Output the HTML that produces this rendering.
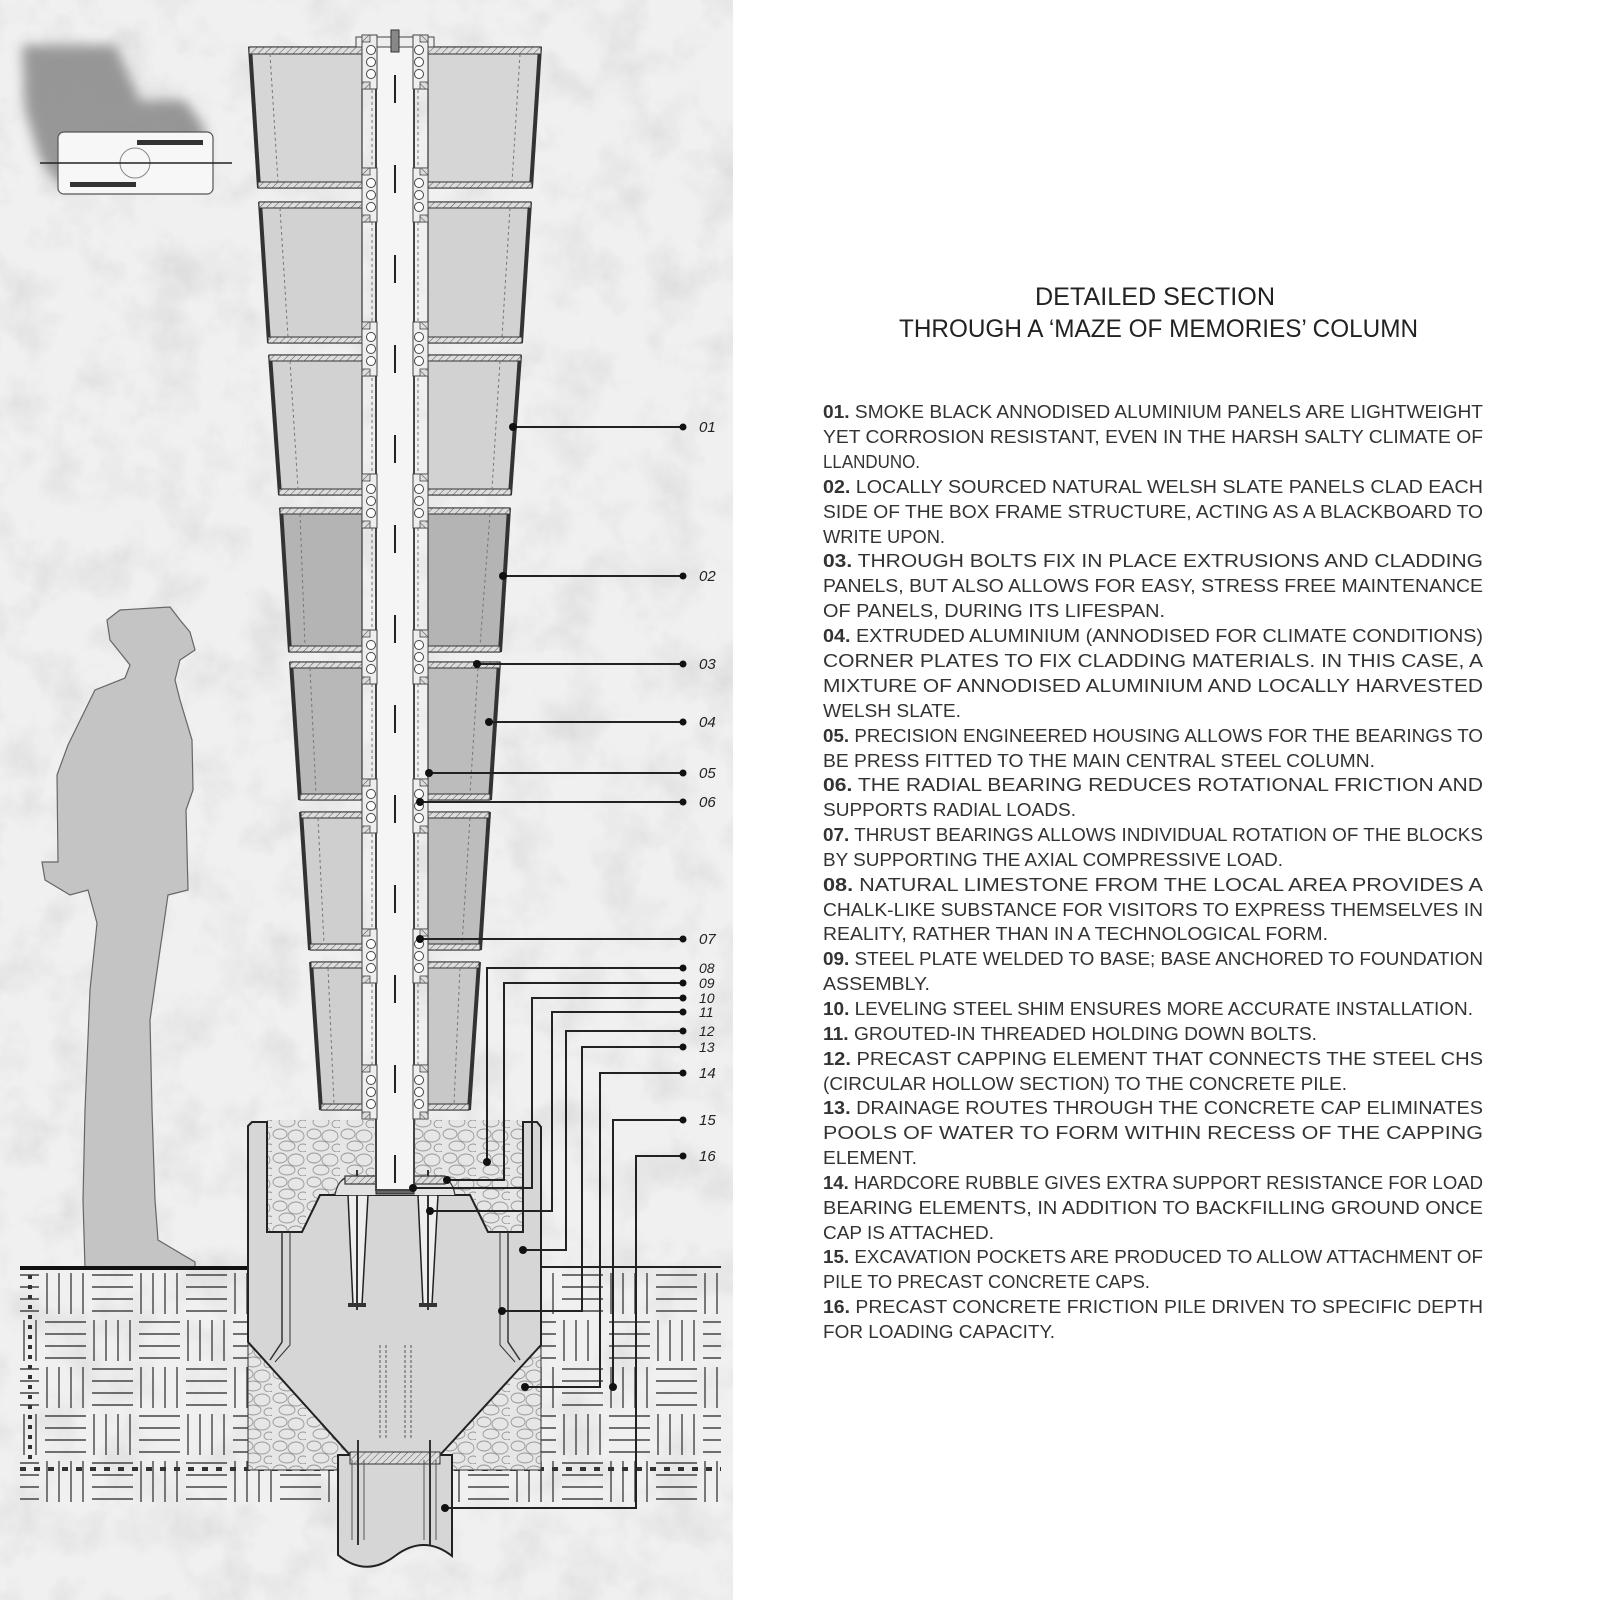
<!DOCTYPE html>
<html><head><meta charset="utf-8"><style>
html,body{margin:0;padding:0;background:#fff;}
svg{display:block;}
</style></head><body>
<svg width="1600" height="1600" viewBox="0 0 1600 1600" xmlns="http://www.w3.org/2000/svg">
<defs>
<filter id="tex" x="0" y="0" width="100%" height="100%">
<feTurbulence type="fractalNoise" baseFrequency="0.02" numOctaves="4" seed="3"/>
<feColorMatrix type="matrix" values="0 0 0 0 0.6  0 0 0 0 0.6  0 0 0 0 0.6  0 0 0 -2.2 1.25"/>
</filter>
<filter id="blur"><feGaussianBlur stdDeviation="6"/></filter>
<pattern id="hatchD" width="5" height="5" patternUnits="userSpaceOnUse" patternTransform="rotate(45)">
<rect width="5" height="5" fill="#ddd"/><line x1="0" y1="0" x2="0" y2="5" stroke="#555" stroke-width="1"/>
</pattern>
<pattern id="peb" width="34" height="24" patternUnits="userSpaceOnUse">
<rect width="34" height="24" fill="#e6e6e6"/>
<ellipse cx="8" cy="6" rx="7" ry="5" fill="none" stroke="#999" stroke-width="0.9"/>
<ellipse cx="24" cy="8" rx="8" ry="6" fill="none" stroke="#999" stroke-width="0.9"/>
<ellipse cx="15" cy="18" rx="8" ry="5" fill="none" stroke="#999" stroke-width="0.9"/>
<ellipse cx="31" cy="20" rx="5" ry="4" fill="none" stroke="#999" stroke-width="0.9"/>
</pattern>
<pattern id="weave" x="42" y="1270" width="94" height="94" patternUnits="userSpaceOnUse">
<g stroke="#444" stroke-width="1.4">
<line x1="5" y1="3" x2="5" y2="44"/><line x1="17" y1="3" x2="17" y2="44"/><line x1="29" y1="3" x2="29" y2="44"/><line x1="41" y1="3" x2="41" y2="44"/>
<line x1="50" y1="5" x2="91" y2="5"/><line x1="50" y1="17" x2="91" y2="17"/><line x1="50" y1="29" x2="91" y2="29"/><line x1="50" y1="41" x2="91" y2="41"/>
<line x1="3" y1="52" x2="44" y2="52"/><line x1="3" y1="64" x2="44" y2="64"/><line x1="3" y1="76" x2="44" y2="76"/><line x1="3" y1="88" x2="44" y2="88"/>
<line x1="52" y1="50" x2="52" y2="91"/><line x1="64" y1="50" x2="64" y2="91"/><line x1="76" y1="50" x2="76" y2="91"/><line x1="88" y1="50" x2="88" y2="91"/>
</g>
</pattern>
<g id="bbL">
<rect x="-15" y="-27" width="15" height="54" fill="#eee" stroke="#444" stroke-width="1"/>
<rect x="-15" y="-27" width="8" height="7" fill="url(#hatchD)" stroke="#444" stroke-width="0.8"/>
<rect x="-15" y="20" width="8" height="7" fill="url(#hatchD)" stroke="#444" stroke-width="0.8"/>
<circle cx="-6" cy="-12" r="4.5" fill="#fff" stroke="#444"/>
<circle cx="-6" cy="0" r="4.5" fill="#fff" stroke="#444"/>
<circle cx="-6" cy="12" r="4.5" fill="#fff" stroke="#444"/>
</g>
<g id="bbR" transform="scale(-1,1)"><use href="#bbL"/></g>
</defs>

<rect x="0" y="0" width="733" height="1600" fill="#f0f0f0"/>
<rect x="0" y="0" width="733" height="1600" filter="url(#tex)" opacity="0.45"/>

<polygon points="22,45 115,45 140,100 185,100 205,130 205,180 60,185 40,160 25,110" fill="#888" filter="url(#blur)" opacity="0.85"/>
<rect x="58" y="132" width="155" height="62" rx="6" fill="#f7f7f7" stroke="#555" stroke-width="1.2"/>
<rect x="137" y="140" width="66" height="5" fill="#333"/>
<rect x="70" y="182" width="66" height="5" fill="#333"/>
<circle cx="135" cy="163" r="15" fill="none" stroke="#888"/>
<line x1="40" y1="163" x2="232" y2="163" stroke="#222" stroke-width="1.5"/>

<path d="M107,620 L120,610 L170,607 L180,620 L190,632 L195,650 L180,660 L175,680 L180,700 L192,740 L193,790 L186,810 L188,890 L168,895 L160,950 L150,1020 L152,1110 L155,1200 L158,1240 L195,1262 L195,1268 L85,1268 L83,1200 L85,1110 L90,990 L97,923 L88,890 L70,895 L45,880 L42,862 L58,862 L57,775 L68,745 L95,690 L125,678 L130,665 L110,640 Z" fill="#c4c4c4" stroke="#666" stroke-width="1.2"/>

<rect x="20" y="1270" width="228" height="237" fill="url(#weave)"/>
<rect x="541" y="1270" width="180" height="237" fill="url(#weave)"/>
<rect x="248" y="1470" width="293" height="37" fill="url(#weave)"/>
<line x1="30" y1="1275" x2="30" y2="1465" stroke="#333" stroke-width="4" stroke-dasharray="4 6"/>
<line x1="20" y1="1268" x2="250" y2="1268" stroke="#111" stroke-width="4"/>
<line x1="541" y1="1267" x2="721" y2="1267" stroke="#222" stroke-width="2"/>
<line x1="20" y1="1469" x2="721" y2="1469" stroke="#333" stroke-width="4" stroke-dasharray="6 8"/>

<rect x="267" y="1120" width="256" height="112" fill="url(#peb)"/>
<polygon points="248,1342 350,1455 350,1470 248,1470" fill="url(#peb)" stroke="#333" stroke-width="1"/>
<polygon points="541,1345 440,1455 440,1470 541,1470" fill="url(#peb)" stroke="#333" stroke-width="1"/>

<polygon points="248,1126 252,1122 267,1122 267,1232 302,1232 320,1195 470,1195 488,1232 523,1232 523,1122 537,1122 541,1127 541,1345 440,1455 350,1455 248,1342" fill="#d6d6d6" stroke="#222" stroke-width="2"/>
<polyline points="282,1232 282,1342 270,1360" fill="none" stroke="#333" stroke-width="1.5"/>
<polyline points="290,1232 290,1345 275,1362" fill="none" stroke="#333" stroke-width="1"/>
<polyline points="508,1232 508,1342 520,1360" fill="none" stroke="#333" stroke-width="1.5"/>
<polyline points="500,1232 500,1345 515,1362" fill="none" stroke="#333" stroke-width="1"/>
<polygon points="348,1195 368,1195 362,1305 353,1305" fill="#eee" stroke="#222" stroke-width="1.5"/>
<polygon points="418,1195 438,1195 432,1305 423,1305" fill="#eee" stroke="#222" stroke-width="1.5"/>
<line x1="357" y1="1170" x2="357" y2="1310" stroke="#333" stroke-width="2"/>
<line x1="428" y1="1170" x2="428" y2="1310" stroke="#333" stroke-width="2"/>
<rect x="348" y="1303" width="18" height="4" fill="#333"/><rect x="419" y="1303" width="18" height="4" fill="#333"/>
<line x1="380" y1="1345" x2="380" y2="1440" stroke="#555" stroke-width="1" stroke-dasharray="3 2"/>
<line x1="386" y1="1345" x2="386" y2="1440" stroke="#555" stroke-width="1" stroke-dasharray="3 2"/>
<line x1="405" y1="1345" x2="405" y2="1440" stroke="#555" stroke-width="1" stroke-dasharray="3 2"/>
<line x1="411" y1="1345" x2="411" y2="1440" stroke="#555" stroke-width="1" stroke-dasharray="3 2"/>
<path d="M335,1195 Q338,1178 350,1177 L440,1177 Q452,1178 455,1195" fill="#e2e2e2" stroke="#333" stroke-width="1.2"/>
<rect x="345" y="1176" width="100" height="8" fill="url(#hatchD)" stroke="#333" stroke-width="1.2"/>
<rect x="376" y="1184" width="38" height="10" fill="#666" stroke="#222"/>

<path d="M338,1455 L338,1555 Q366,1578 395,1556 Q424,1534 452,1556 L452,1455 Z" fill="#d6d6d6" stroke="#222" stroke-width="2"/>
<rect x="350" y="1452" width="90" height="12" fill="url(#hatchD)" stroke="#333"/>
<line x1="358" y1="1440" x2="358" y2="1545" stroke="#333" stroke-width="2"/>
<line x1="430" y1="1440" x2="430" y2="1545" stroke="#333" stroke-width="2"/>
<line x1="352" y1="1460" x2="352" y2="1540" stroke="#555" stroke-width="1"/>
<line x1="364" y1="1460" x2="364" y2="1540" stroke="#555" stroke-width="1"/>
<line x1="424" y1="1460" x2="424" y2="1540" stroke="#555" stroke-width="1"/>
<line x1="436" y1="1460" x2="436" y2="1540" stroke="#555" stroke-width="1"/>

<g stroke="#333" stroke-width="1.2">
<polygon points="249,47 362,47 362,188 258.6,188" fill="#d6d6d6"/><polygon points="428,47 541,47 531.4,188 428,188" fill="#d6d6d6"/>
<polygon points="259.5,202 362,202 362,343 269.1,343" fill="#d2d2d2"/><polygon points="428,202 530.5,202 520.9,343 428,343" fill="#d2d2d2"/>
<polygon points="269.9,355 362,355 362,495 279.5,495" fill="#d2d2d2"/><polygon points="428,355 520.1,355 510.5,495 428,495" fill="#d2d2d2"/>
<polygon points="280.3,508 362,508 362,652 290.1,652" fill="#b4b4b4"/><polygon points="428,508 509.7,508 499.9,652 428,652" fill="#b4b4b4"/>
<polygon points="290.8,662 362,662 362,800 300.2,800" fill="#b8b8b8"/><polygon points="428,662 499.2,662 489.8,800 428,800" fill="#bcbcbc"/>
<polygon points="301,812 362,812 362,950 310.4,950" fill="#cfcfcf"/><polygon points="428,812 489,812 479.6,950 428,950" fill="#bdbdbd"/>
<polygon points="311.2,962 362,962 362,1110 321.3,1110" fill="#cfcfcf"/><polygon points="428,962 478.8,962 468.7,1110 428,1110" fill="#c8c8c8"/>
</g>
<g stroke="#333" stroke-width="4">
<line x1="250" y1="47" x2="259" y2="188"/><line x1="540" y1="47" x2="531" y2="188"/>
<line x1="260" y1="202" x2="269" y2="343"/><line x1="530" y1="202" x2="521" y2="343"/>
<line x1="270" y1="355" x2="280" y2="495"/><line x1="520" y1="355" x2="510" y2="495"/>
<line x1="281" y1="508" x2="290" y2="652"/><line x1="509" y1="508" x2="500" y2="652"/>
<line x1="291" y1="662" x2="300" y2="800"/><line x1="499" y1="662" x2="490" y2="800"/>
<line x1="301" y1="812" x2="310" y2="950"/><line x1="489" y1="812" x2="480" y2="950"/>
<line x1="311" y1="962" x2="321" y2="1110"/><line x1="479" y1="962" x2="469" y2="1110"/>
</g>
<g fill="url(#hatchD)" stroke="#333" stroke-width="1">
<rect x="249" y="47" width="292" height="7"/><rect x="258" y="182" width="274" height="6"/>
<rect x="259" y="202" width="272" height="6"/><rect x="268" y="337" width="254" height="6"/>
<rect x="269" y="355" width="252" height="6"/><rect x="279" y="489" width="232" height="6"/>
<rect x="280" y="508" width="230" height="6"/><rect x="289" y="646" width="211" height="6"/>
<rect x="290" y="662" width="210" height="6"/><rect x="300" y="794" width="190" height="6"/>
<rect x="301" y="812" width="188" height="6"/><rect x="310" y="944" width="170" height="6"/>
<rect x="311" y="962" width="168" height="6"/><rect x="321" y="1104" width="148" height="6"/>
</g>
<g stroke="#777" stroke-width="1" stroke-dasharray="3 3">
<line x1="270" y1="54" x2="278" y2="182"/><line x1="520" y1="54" x2="512" y2="182"/>
<line x1="280" y1="208" x2="288" y2="337"/><line x1="510" y1="208" x2="502" y2="337"/>
<line x1="290" y1="361" x2="298" y2="489"/><line x1="500" y1="361" x2="492" y2="489"/>
<line x1="300" y1="514" x2="305" y2="646"/><line x1="490" y1="514" x2="480" y2="646"/>
<line x1="310" y1="668" x2="316" y2="794"/><line x1="478" y1="668" x2="470" y2="794"/>
<line x1="318" y1="818" x2="324" y2="944"/><line x1="470" y1="818" x2="462" y2="944"/>
<line x1="328" y1="968" x2="334" y2="1104"/><line x1="460" y1="968" x2="454" y2="1104"/>
<line x1="372" y1="54" x2="372" y2="1110"/><line x1="418" y1="54" x2="418" y2="1110"/>
</g>
<rect x="376" y="40" width="38" height="1150" fill="#f5f5f5" stroke="#444" stroke-width="2"/>
<line x1="395" y1="75" x2="395" y2="1185" stroke="#222" stroke-width="2" stroke-dasharray="28 62"/>
<rect x="356" y="37" width="78" height="10" fill="#eee" stroke="#444"/>
<rect x="391" y="30" width="8" height="22" fill="#888" stroke="#333"/>
<use href="#bbL" x="377" y="62"/><use href="#bbR" transform="translate(413,62)"/>
<use href="#bbL" x="377" y="195"/><use href="#bbR" transform="translate(413,195)"/>
<use href="#bbL" x="377" y="349"/><use href="#bbR" transform="translate(413,349)"/>
<use href="#bbL" x="377" y="501"/><use href="#bbR" transform="translate(413,501)"/>
<use href="#bbL" x="377" y="657"/><use href="#bbR" transform="translate(413,657)"/>
<use href="#bbL" x="377" y="806"/><use href="#bbR" transform="translate(413,806)"/>
<use href="#bbL" x="377" y="956"/><use href="#bbR" transform="translate(413,956)"/>
<use href="#bbL" x="377" y="1092"/><use href="#bbR" transform="translate(413,1092)"/>

<g stroke="#222" stroke-width="2" fill="none">
<line x1="513" y1="427" x2="683" y2="427"/>
<line x1="503" y1="576" x2="683" y2="576"/>
<line x1="477" y1="664" x2="683" y2="664"/>
<line x1="489" y1="722" x2="683" y2="722"/>
<line x1="429" y1="773" x2="683" y2="773"/>
<line x1="420" y1="802" x2="683" y2="802"/>
<line x1="420" y1="939" x2="683" y2="939"/>
<polyline points="683,968 487,968 487,1162"/>
<polyline points="683,983 504,983 504,1180 447,1180"/>
<polyline points="683,998 532,998 532,1188 413,1188"/>
<polyline points="683,1012 552,1012 552,1211 430,1211"/>
<polyline points="683,1031 566,1031 566,1250 523,1250"/>
<polyline points="683,1047 582,1047 582,1311 502,1311"/>
<polyline points="683,1073 600,1073 600,1387 525,1387"/>
<polyline points="683,1120 613,1120 613,1387"/>
<polyline points="683,1156 636,1156 636,1508 445,1508"/>
</g>
<g fill="#111">
<circle cx="513" cy="427" r="4"/><circle cx="503" cy="576" r="4"/><circle cx="477" cy="664" r="4"/><circle cx="489" cy="722" r="4"/>
<circle cx="429" cy="773" r="4"/><circle cx="420" cy="802" r="4"/><circle cx="420" cy="939" r="4"/>
<circle cx="487" cy="1162" r="4"/><circle cx="447" cy="1180" r="4"/><circle cx="413" cy="1188" r="4"/><circle cx="430" cy="1211" r="4"/>
<circle cx="523" cy="1250" r="4"/><circle cx="502" cy="1311" r="4"/><circle cx="525" cy="1387" r="4"/><circle cx="613" cy="1387" r="4"/><circle cx="445" cy="1508" r="4"/>
<circle cx="683" cy="427" r="3.5"/><circle cx="683" cy="576" r="3.5"/><circle cx="683" cy="664" r="3.5"/><circle cx="683" cy="722" r="3.5"/>
<circle cx="683" cy="773" r="3.5"/><circle cx="683" cy="802" r="3.5"/><circle cx="683" cy="939" r="3.5"/><circle cx="683" cy="968" r="3.5"/>
<circle cx="683" cy="983" r="3.5"/><circle cx="683" cy="998" r="3.5"/><circle cx="683" cy="1012" r="3.5"/><circle cx="683" cy="1031" r="3.5"/>
<circle cx="683" cy="1047" r="3.5"/><circle cx="683" cy="1073" r="3.5"/><circle cx="683" cy="1120" r="3.5"/><circle cx="683" cy="1156" r="3.5"/>
</g>
<g font-family="Liberation Sans, sans-serif" font-size="15" font-style="italic" fill="#222">
<text x="699" y="432">01</text><text x="699" y="581">02</text><text x="699" y="669">03</text><text x="699" y="727">04</text>
<text x="699" y="778">05</text><text x="699" y="807">06</text><text x="699" y="944">07</text>
<text x="699" y="973" font-size="14">08</text><text x="699" y="988" font-size="14">09</text><text x="699" y="1003" font-size="14">10</text>
<text x="699" y="1017" font-size="14">11</text><text x="699" y="1036" font-size="14">12</text><text x="699" y="1052" font-size="14">13</text>
<text x="699" y="1078">14</text><text x="699" y="1125">15</text><text x="699" y="1161">16</text>
</g>

<g font-family="Liberation Sans, sans-serif" fill="#222" font-size="25">
<text x="1035" y="305" textLength="240" lengthAdjust="spacingAndGlyphs">DETAILED SECTION</text>
<text x="899" y="337" textLength="519" lengthAdjust="spacingAndGlyphs">THROUGH A ‘MAZE OF MEMORIES’ COLUMN</text>
</g>

<g font-family="Liberation Sans, sans-serif" font-size="18" fill="#333">
<text x="823" y="418" textLength="660" lengthAdjust="spacingAndGlyphs"><tspan font-weight="bold">01.</tspan> SMOKE BLACK ANNODISED ALUMINIUM PANELS ARE LIGHTWEIGHT</text>
<text x="823" y="443" textLength="660" lengthAdjust="spacingAndGlyphs">YET CORROSION RESISTANT, EVEN IN THE HARSH SALTY CLIMATE OF</text>
<text x="823" y="468" textLength="97" lengthAdjust="spacingAndGlyphs">LLANDUNO.</text>
<text x="823" y="493" textLength="660" lengthAdjust="spacingAndGlyphs"><tspan font-weight="bold">02.</tspan> LOCALLY SOURCED NATURAL WELSH SLATE PANELS CLAD EACH</text>
<text x="823" y="518" textLength="660" lengthAdjust="spacingAndGlyphs">SIDE OF THE BOX FRAME STRUCTURE, ACTING AS A BLACKBOARD TO</text>
<text x="823" y="543" textLength="122" lengthAdjust="spacingAndGlyphs">WRITE UPON.</text>
<text x="823" y="567" textLength="660" lengthAdjust="spacingAndGlyphs"><tspan font-weight="bold">03.</tspan> THROUGH BOLTS FIX IN PLACE EXTRUSIONS AND CLADDING</text>
<text x="823" y="592" textLength="660" lengthAdjust="spacingAndGlyphs">PANELS, BUT ALSO ALLOWS FOR EASY, STRESS FREE MAINTENANCE</text>
<text x="823" y="617" textLength="342" lengthAdjust="spacingAndGlyphs">OF PANELS, DURING ITS LIFESPAN.</text>
<text x="823" y="642" textLength="660" lengthAdjust="spacingAndGlyphs"><tspan font-weight="bold">04.</tspan> EXTRUDED ALUMINIUM (ANNODISED FOR CLIMATE CONDITIONS)</text>
<text x="823" y="667" textLength="660" lengthAdjust="spacingAndGlyphs">CORNER PLATES TO FIX CLADDING MATERIALS. IN THIS CASE, A</text>
<text x="823" y="692" textLength="660" lengthAdjust="spacingAndGlyphs">MIXTURE OF ANNODISED ALUMINIUM AND LOCALLY HARVESTED</text>
<text x="823" y="717" textLength="138" lengthAdjust="spacingAndGlyphs">WELSH SLATE.</text>
<text x="823" y="742" textLength="660" lengthAdjust="spacingAndGlyphs"><tspan font-weight="bold">05.</tspan> PRECISION ENGINEERED HOUSING ALLOWS FOR THE BEARINGS TO</text>
<text x="823" y="767" textLength="552" lengthAdjust="spacingAndGlyphs">BE PRESS FITTED TO THE MAIN CENTRAL STEEL COLUMN.</text>
<text x="823" y="791" textLength="660" lengthAdjust="spacingAndGlyphs"><tspan font-weight="bold">06.</tspan> THE RADIAL BEARING REDUCES ROTATIONAL FRICTION AND</text>
<text x="823" y="816" textLength="253" lengthAdjust="spacingAndGlyphs">SUPPORTS RADIAL LOADS.</text>
<text x="823" y="841" textLength="660" lengthAdjust="spacingAndGlyphs"><tspan font-weight="bold">07.</tspan> THRUST BEARINGS ALLOWS INDIVIDUAL ROTATION OF THE BLOCKS</text>
<text x="823" y="866" textLength="460" lengthAdjust="spacingAndGlyphs">BY SUPPORTING THE AXIAL COMPRESSIVE LOAD.</text>
<text x="823" y="891" textLength="660" lengthAdjust="spacingAndGlyphs"><tspan font-weight="bold">08.</tspan> NATURAL LIMESTONE FROM THE LOCAL AREA PROVIDES A</text>
<text x="823" y="916" textLength="660" lengthAdjust="spacingAndGlyphs">CHALK-LIKE SUBSTANCE FOR VISITORS TO EXPRESS THEMSELVES IN</text>
<text x="823" y="940" textLength="505" lengthAdjust="spacingAndGlyphs">REALITY, RATHER THAN IN A TECHNOLOGICAL FORM.</text>
<text x="823" y="965" textLength="660" lengthAdjust="spacingAndGlyphs"><tspan font-weight="bold">09.</tspan> STEEL PLATE WELDED TO BASE; BASE ANCHORED TO FOUNDATION</text>
<text x="823" y="990" textLength="107" lengthAdjust="spacingAndGlyphs">ASSEMBLY.</text>
<text x="823" y="1015" textLength="650" lengthAdjust="spacingAndGlyphs"><tspan font-weight="bold">10.</tspan> LEVELING STEEL SHIM ENSURES MORE ACCURATE INSTALLATION.</text>
<text x="823" y="1040" textLength="494" lengthAdjust="spacingAndGlyphs"><tspan font-weight="bold">11.</tspan> GROUTED-IN THREADED HOLDING DOWN BOLTS.</text>
<text x="823" y="1065" textLength="660" lengthAdjust="spacingAndGlyphs"><tspan font-weight="bold">12.</tspan> PRECAST CAPPING ELEMENT THAT CONNECTS THE STEEL CHS</text>
<text x="823" y="1090" textLength="524" lengthAdjust="spacingAndGlyphs">(CIRCULAR HOLLOW SECTION) TO THE CONCRETE PILE.</text>
<text x="823" y="1114" textLength="660" lengthAdjust="spacingAndGlyphs"><tspan font-weight="bold">13.</tspan> DRAINAGE ROUTES THROUGH THE CONCRETE CAP ELIMINATES</text>
<text x="823" y="1139" textLength="660" lengthAdjust="spacingAndGlyphs">POOLS OF WATER TO FORM WITHIN RECESS OF THE CAPPING</text>
<text x="823" y="1164" textLength="94" lengthAdjust="spacingAndGlyphs">ELEMENT.</text>
<text x="823" y="1189" textLength="660" lengthAdjust="spacingAndGlyphs"><tspan font-weight="bold">14.</tspan> HARDCORE RUBBLE GIVES EXTRA SUPPORT RESISTANCE FOR LOAD</text>
<text x="823" y="1214" textLength="660" lengthAdjust="spacingAndGlyphs">BEARING ELEMENTS, IN ADDITION TO BACKFILLING GROUND ONCE</text>
<text x="823" y="1239" textLength="171" lengthAdjust="spacingAndGlyphs">CAP IS ATTACHED.</text>
<text x="823" y="1263" textLength="660" lengthAdjust="spacingAndGlyphs"><tspan font-weight="bold">15.</tspan> EXCAVATION POCKETS ARE PRODUCED TO ALLOW ATTACHMENT OF</text>
<text x="823" y="1288" textLength="327" lengthAdjust="spacingAndGlyphs">PILE TO PRECAST CONCRETE CAPS.</text>
<text x="823" y="1313" textLength="660" lengthAdjust="spacingAndGlyphs"><tspan font-weight="bold">16.</tspan> PRECAST CONCRETE FRICTION PILE DRIVEN TO SPECIFIC DEPTH</text>
<text x="823" y="1338" textLength="232" lengthAdjust="spacingAndGlyphs">FOR LOADING CAPACITY.</text>
</g>
</svg>
</body></html>
